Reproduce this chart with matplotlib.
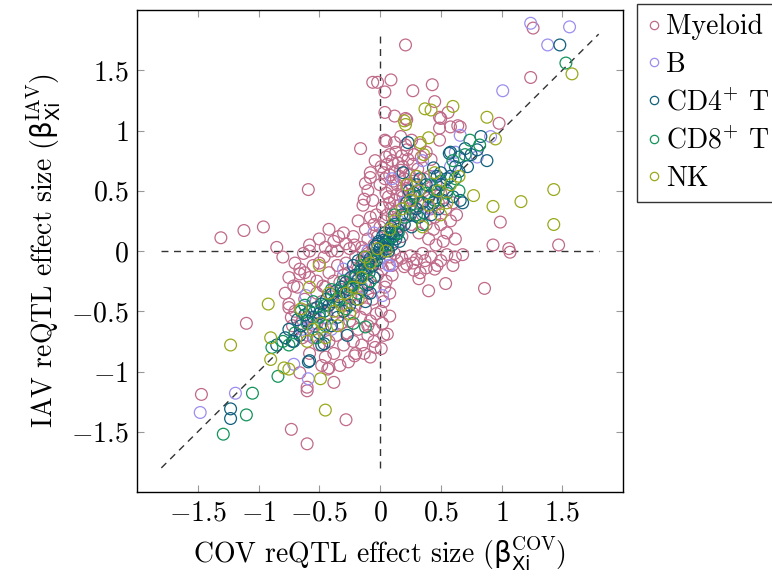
import matplotlib
matplotlib.use("Agg")
import matplotlib.pyplot as plt
from matplotlib.lines import Line2D

plt.rcParams["font.family"] = "cmr10"
plt.rcParams["mathtext.fontset"] = "cm"
plt.rcParams["axes.formatter.use_mathtext"] = True
# custom math fonts, only used by the axis labels (upright sans beta)
plt.rcParams["mathtext.rm"] = "cmr10"
plt.rcParams["mathtext.sf"] = "DejaVu Sans"

# ---- data (beta_COV, beta_IAV) per cell type ----
myeloid = [
    # outliers
    (0.21, 1.71), (1.26, 1.85), (1.24, 1.44), (-0.06, 1.40), (-0.02, 1.40), (0.09, 1.42),
    (0.04, 1.32), (0.27, 1.33), (0.43, 1.38), (0.45, 1.24), (0.04, 1.15), (0.12, 1.12),
    (0.21, 1.10), (0.22, 1.09), (0.49, 1.11), (0.50, 1.10), (0.56, 1.15), (0.64, 1.04),
    (0.49, 1.02), (0.58, 1.03), (0.66, 1.03), (0.98, 1.06), (-0.16, 0.85), (0.05, 0.91),
    (0.04, 0.92), (0.49, 0.92), (-0.59, 0.51), (-0.96, 0.20), (-1.12, 0.17), (-1.31, 0.11),
    (-0.85, 0.03), (-0.08, 0.61), (-0.13, 0.43), (-0.04, 0.75), (-0.34, 0.12), (-0.58, 0.05),
    (-0.45, 0.03), (-0.21, 0.05), (0.99, 0.24), (0.93, 0.05), (1.06, 0.02), (1.47, 0.05),
    (0.68, -0.03), (1.07, -0.01), (0.86, -0.31), (0.54, -0.27), (0.40, -0.33), (0.32, -0.23),
    (0.33, -0.18), (0.47, -0.12), (0.37, -0.08), (0.22, -0.11), (0.14, -0.08), (0.27, -0.10),
    (0.08, -0.54), (0.06, -0.69), (0.01, -0.81), (0.02, -0.60), (0.01, -0.50), (-1.47, -1.19),
    (-1.10, -0.60), (-0.73, -1.48), (-0.60, -1.60), (-0.28, -1.40), (-0.60, -1.16),
    (-0.60, -1.13), (-0.38, -1.09), (-0.42, -0.97), (-0.75, -0.44), (-0.75, -0.47),
    (-0.73, -0.55), (-0.71, -0.29), (-0.66, -0.19), (-0.66, -0.15), (-0.58, 0.00),
    (-0.63, -0.02), (-0.52, -0.25), (-0.47, -0.29), (-0.66, -1.01), (-0.21, -0.87),
    (-0.13, -0.85), (-0.04, -0.80), (-0.05, -0.75), (-0.43, -0.98),
    # upper blob
    (0.00, 0.20), (0.03, 0.25), (0.06, 0.30), (0.10, 0.28), (0.13, 0.33), (0.02, 0.36),
    (0.08, 0.40), (0.12, 0.42), (0.16, 0.38), (0.19, 0.45), (0.05, 0.48), (0.10, 0.52),
    (0.14, 0.55), (0.18, 0.50), (0.22, 0.52), (0.25, 0.47), (0.00, 0.55), (0.04, 0.60),
    (0.08, 0.63), (0.12, 0.66), (0.16, 0.62), (0.20, 0.60), (0.24, 0.64), (0.28, 0.58),
    (0.01, 0.70), (0.06, 0.72), (0.10, 0.75), (0.15, 0.73), (0.19, 0.70), (0.23, 0.76),
    (0.27, 0.72), (0.31, 0.68), (0.08, 0.80), (0.13, 0.82), (0.18, 0.79), (0.22, 0.84),
    (0.28, 0.80), (0.34, 0.78), (0.38, 0.82), (0.42, 0.76), (0.30, 0.45), (0.33, 0.40),
    (0.36, 0.50), (0.40, 0.44), (0.29, 0.35), (0.35, 0.30), (0.42, 0.35), (0.45, 0.28),
    (0.48, 0.40), (0.38, 0.22), (0.44, 0.18), (0.50, 0.22), (0.55, 0.15), (0.58, 0.25),
    (0.62, 0.10), (0.52, 0.08), (0.46, 0.05), (0.40, 0.10), (0.32, 0.15), (0.26, 0.22),
    (-0.03, 0.30), (-0.06, 0.42), (-0.10, 0.50), (-0.12, 0.56), (-0.08, 0.65), (-0.14, 0.38),
    (-0.05, 0.22), (0.20, 0.30), (0.24, 0.35), (0.15, 0.20), (0.09, 0.15), (0.18, 0.12),
    (0.27, 0.42), (0.21, 0.88), (0.26, 0.92), (0.17, 0.95), (0.33, 0.88), (0.12, 0.90),
    (0.36, 0.60), (0.41, 0.62), (0.46, 0.55), (0.50, 0.48), (0.54, 0.35), (0.60, 0.40),
    (0.63, 0.30), (0.07, 0.45), (0.11, 0.58), (0.03, 0.65), (0.17, 0.67), (0.21, 0.40),
    (0.14, 0.47), (0.09, 0.35), (0.25, 0.56), (0.05, 0.78), (0.30, 0.62),
    # right of origin, below zero
    (0.08, -0.05), (0.12, -0.02), (0.18, -0.06), (0.25, -0.04), (0.30, -0.07), (0.35, -0.02),
    (0.42, -0.05), (0.50, -0.08), (0.55, -0.03), (0.60, -0.12), (0.45, -0.15), (0.38, -0.14),
    (0.28, -0.16), (0.20, -0.13), (0.10, -0.12), (0.62, -0.05), (0.05, -0.25), (0.08, -0.35),
    (0.03, -0.42), (0.10, -0.20), (0.04, -0.30),
    # left of origin, above zero
    (-0.05, 0.05), (-0.10, 0.10), (-0.15, 0.03), (-0.22, 0.12), (-0.28, 0.06), (-0.30, 0.15),
    (-0.38, 0.08), (-0.42, 0.18), (-0.50, 0.10), (-0.12, 0.18), (-0.18, 0.25), (-0.25, 0.02),
    (-0.08, 0.28), (-0.35, 0.00), (-0.02, 0.12),
    # lower blob
    (-0.05, -0.05), (-0.10, -0.02), (-0.08, -0.12), (-0.15, -0.08), (-0.12, -0.18),
    (-0.20, -0.05), (-0.18, -0.15), (-0.22, -0.22), (-0.28, -0.10), (-0.25, -0.28),
    (-0.30, -0.20), (-0.32, -0.32), (-0.35, -0.12), (-0.38, -0.25), (-0.40, -0.38),
    (-0.42, -0.18), (-0.45, -0.30), (-0.48, -0.42), (-0.50, -0.10), (-0.52, -0.35),
    (-0.55, -0.48), (-0.58, -0.22), (-0.60, -0.55), (-0.62, -0.40), (-0.65, -0.60),
    (-0.68, -0.30), (-0.70, -0.50), (-0.02, -0.20), (-0.04, -0.30), (-0.06, -0.40),
    (-0.03, -0.52), (-0.08, -0.58), (-0.05, -0.65), (-0.10, -0.70), (-0.12, -0.48),
    (-0.15, -0.38), (-0.16, -0.55), (-0.18, -0.65), (-0.20, -0.45), (-0.22, -0.75),
    (-0.25, -0.58), (-0.27, -0.68), (-0.28, -0.45), (-0.30, -0.78), (-0.32, -0.60),
    (-0.35, -0.50), (-0.36, -0.70), (-0.38, -0.85), (-0.40, -0.62), (-0.42, -0.75),
    (-0.45, -0.88), (-0.47, -0.65), (-0.50, -0.78), (-0.52, -0.60), (-0.55, -0.72),
    (-0.58, -0.85), (-0.60, -0.70), (-0.12, -0.28), (-0.10, -0.35), (0.00, -0.10),
    (0.02, -0.15), (-0.14, 0.00), (-0.24, -0.38), (-0.34, -0.42), (-0.44, -0.52),
    (-0.54, -0.62), (-0.64, -0.72), (-0.20, -0.85), (-0.15, -0.78), (-0.08, -0.88),
    (0.03, -0.70), (-0.26, -0.92), (-0.33, -0.95), (-0.48, -0.95), (-0.40, 0.00),
    (-0.46, -0.05), (-0.55, -0.12), (-0.62, -0.18), (-0.70, -0.10), (-0.75, -0.22),
    (-0.78, -0.35), (-0.80, -0.05), (-0.72, -0.62), (-0.18, -0.30), (-0.26, -0.18),
    (-0.33, -0.26), (-0.22, -0.52), (-0.30, -0.40), (-0.10, -0.62), (-0.14, -0.10),
]

b_cells = [
    (1.24, 1.89), (1.56, 1.86), (1.38, 1.71), (1.01, 1.33), (0.66, 0.96), (0.80, 0.78),
    (0.91, 0.95), (-1.48, -1.34), (-1.19, -1.18), (-0.61, -0.37), (-0.64, -0.65),
    (-0.59, -1.06), (-0.54, -0.72), (-0.71, -0.94), (0.07, -0.12), (0.02, -0.37),
    (0.08, -0.12), (0.30, 0.50), (0.45, 0.62), (0.58, 0.70), (0.15, 0.25), (0.20, 0.40),
    (0.52, 0.55), (0.40, 0.35), (-0.05, 0.15), (-0.10, 0.00), (-0.20, -0.25), (-0.35, -0.40),
    (-0.45, -0.55), (-0.25, -0.45), (-0.55, -0.60), (-0.30, -0.15), (0.10, 0.60),
    (0.35, 0.75), (0.62, 0.82), (-0.40, -0.65), (-0.15, -0.30),
]

cd4_t = [
    (1.48, 1.71), (0.23, 0.90), (0.88, 0.75), (0.83, 0.95), (0.57, 0.81), (0.65, 0.78),
    (0.70, 0.85), (0.68, 0.40), (0.66, 0.42), (0.44, 0.69), (0.19, 0.65), (-1.23, -1.31),
    (-1.23, -1.39), (-0.71, -0.75), (-0.46, -0.77), (-0.58, -0.91), (-0.27, -0.70),
    (-0.59, -0.92), (-0.72, -0.75), (-0.85, -0.78), (-0.48, -0.78),
    (0.75, 0.80), (0.62, 0.70), (0.55, 0.60), (0.50, 0.55), (0.60, 0.45), (0.52, 0.42),
    (0.45, 0.50), (0.40, 0.45), (0.35, 0.40), (0.30, 0.35), (0.25, 0.30), (0.38, 0.55),
    (0.28, 0.48), (0.33, 0.60), (0.22, 0.40), (0.48, 0.35), (0.42, 0.30), (0.55, 0.50),
    (0.18, 0.30), (0.20, 0.22), (0.15, 0.18), (0.12, 0.22), (0.10, 0.15), (0.08, 0.10),
    (0.05, 0.08), (0.03, 0.05), (0.00, 0.02), (0.06, 0.02), (0.10, 0.05), (0.13, 0.10),
    (0.02, 0.12), (-0.02, 0.06), (0.04, 0.15), (0.16, 0.08), (0.09, 0.20), (0.07, 0.00),
    (0.01, -0.02), (0.26, 0.20), (0.32, 0.28), (0.36, 0.32), (0.44, 0.40), (0.58, 0.62),
    (0.47, 0.62), (0.65, 0.66), (0.72, 0.70), (0.80, 0.84), (0.30, 0.55), (0.24, 0.50),
    (0.50, 0.65), (0.58, 0.82), (0.06, 0.05), (0.11, 0.12), (0.03, 0.09), (0.14, 0.14),
    (-0.02, -0.02), (-0.05, -0.04), (-0.03, -0.08), (-0.08, -0.06), (-0.06, -0.12),
    (-0.10, -0.10), (-0.12, -0.14), (-0.09, -0.18), (-0.14, -0.20), (-0.16, -0.16),
    (-0.18, -0.24), (-0.20, -0.20), (-0.22, -0.28), (-0.24, -0.22), (-0.26, -0.32),
    (-0.28, -0.26), (-0.30, -0.34), (-0.32, -0.30), (-0.34, -0.38), (-0.36, -0.33),
    (-0.38, -0.42), (-0.40, -0.36), (-0.42, -0.45), (-0.44, -0.40), (-0.46, -0.50),
    (-0.48, -0.44), (-0.50, -0.52), (-0.52, -0.47), (-0.55, -0.55), (-0.58, -0.50),
    (-0.60, -0.58), (-0.62, -0.53), (-0.65, -0.62), (-0.68, -0.57), (-0.05, -0.22),
    (-0.10, -0.28), (-0.15, -0.32), (-0.20, -0.40), (-0.25, -0.45), (-0.30, -0.50),
    (-0.35, -0.55), (-0.04, 0.04), (-0.01, 0.08), (-0.13, -0.05), (-0.18, -0.08),
    (-0.22, -0.12), (-0.08, -0.35), (-0.12, -0.42), (-0.40, -0.62), (-0.50, -0.68),
    (-0.75, -0.65), (-0.66, -0.70), (-0.78, -0.72),
]

cd8_t = [
    (1.53, 1.56), (0.82, 0.88), (0.74, 0.92), (-1.29, -1.52), (-1.10, -1.36), (-1.05, -1.18),
    (-0.84, -1.04), (-0.89, -0.80), (-0.12, -0.63),
    (0.70, 0.80), (0.62, 0.60), (0.55, 0.48), (0.45, 0.42), (0.38, 0.48), (0.30, 0.30),
    (0.25, 0.38), (0.20, 0.28), (0.50, 0.58), (0.35, 0.22), (0.15, 0.15), (0.10, 0.12),
    (0.05, 0.05), (0.12, 0.30), (0.42, 0.55), (0.60, 0.75), (0.28, 0.45), (0.65, 0.50),
    (-0.05, -0.08), (-0.10, -0.15), (-0.15, -0.12), (-0.20, -0.22), (-0.25, -0.30),
    (-0.30, -0.25), (-0.35, -0.40), (-0.40, -0.32), (-0.45, -0.45), (-0.50, -0.55),
    (-0.55, -0.42), (-0.60, -0.60), (-0.65, -0.50), (-0.70, -0.68), (-0.52, -0.72),
    (-0.45, -0.62), (-0.28, -0.48), (-0.18, -0.35), (-0.08, -0.25), (-0.62, -0.45),
    (-0.75, -0.78), (-0.80, -0.75), (-0.22, -0.60),
]

nk = [
    (1.58, 1.47), (1.43, 0.51), (1.43, 0.22), (1.16, 0.41), (0.93, 0.37), (0.77, 0.46),
    (0.88, 1.11), (0.37, 1.18), (0.60, 1.20), (0.20, 1.08), (0.21, 1.05), (0.33, 0.90),
    (0.40, 0.94), (0.36, 0.80), (0.95, 0.93), (0.42, 1.17), (-0.92, -0.44), (-1.23, -0.78),
    (-0.90, -0.72), (-0.90, -0.90), (-0.79, -0.97), (-0.75, -0.98), (-0.45, -1.32),
    (-0.49, -1.06), (-0.50, -0.12),
    (0.25, 0.42), (0.32, 0.50), (0.40, 0.38), (0.48, 0.50), (0.55, 0.40), (0.18, 0.35),
    (0.12, 0.25), (0.08, 0.18), (0.22, 0.55), (0.45, 0.65), (0.30, 0.62), (0.58, 0.55),
    (0.05, 0.00), (-0.02, 0.02), (-0.08, -0.10), (-0.15, -0.22), (-0.12, -0.05),
    (-0.22, -0.30), (-0.28, -0.35), (-0.32, -0.45), (-0.38, -0.50), (-0.42, -0.35),
    (-0.48, -0.60), (-0.55, -0.65), (-0.60, -0.75), (-0.35, -0.62), (-0.25, -0.52),
    (-0.65, -0.48), (-0.18, -0.40), (-0.45, -0.72), (-0.58, -0.30), (0.35, 0.20),
    (0.50, 0.30), (0.65, 0.62),
]

labels = ["Myeloid", "B", "CD4$^{+}$ T", "CD8$^{+}$ T", "NK"]
colors = ["#c06a8a", "#9b8eef", "#11607c", "#13935a", "#9aa81c"]
series = [myeloid, b_cells, cd4_t, cd8_t, nk]

fig = plt.figure(figsize=(7.72, 5.82), dpi=100)
ax = fig.add_axes([0.1775, 0.1546, 0.6295, 0.8282])

# reference lines
dash = dict(color="#333333", lw=1.0, dashes=(5, 4), zorder=1)
ax.plot([-1.8, 1.8], [0, 0], **dash)
ax.plot([0, 0], [-1.8, 1.8], **dash)
ax.plot([-1.8, 1.8], [-1.8, 1.8], **dash)

for pts, col in zip(series, colors):
    xs = [p[0] for p in pts]
    ys = [p[1] for p in pts]
    ax.scatter(xs, ys, s=72, facecolors="none", edgecolors=col, linewidths=0.9, zorder=2)

ax.set_xlim(-2, 2)
ax.set_ylim(-2, 2)
ticks = [-1.5, -1, -0.5, 0, 0.5, 1, 1.5]
ticklabels = ["$-1.5$", "$-1$", "$-0.5$", "$0$", "$0.5$", "$1$", "$1.5$"]
ax.set_xticks(ticks)
ax.set_xticklabels(ticklabels)
ax.set_yticks(ticks)
ax.set_yticklabels(ticklabels)
ax.tick_params(direction="in", length=5, width=0.8, color="0.6", labelsize=20,
               top=True, right=True, pad=6)
for s in ax.spines.values():
    s.set_linewidth(1.0)

xl = ax.set_xlabel(r"COV reQTL effect size ($\mathsf{\beta}^{\mathrm{COV}}_{\mathsf{Xi}}$)",
                   fontsize=20, labelpad=6)
yl = ax.set_ylabel(r"IAV reQTL effect size ($\mathsf{\beta}^{\mathrm{IAV}}_{\mathsf{Xi}}$)",
                   fontsize=20, labelpad=6)
xl.set_math_fontfamily("custom")
yl.set_math_fontfamily("custom")

handles = [Line2D([], [], ls="none", marker="o", markersize=6, markerfacecolor="none",
                  markeredgecolor=c, markeredgewidth=0.9) for c in colors]
leg = ax.legend(handles, labels, loc="upper left", bbox_to_anchor=(1.029, 1.012),
                fontsize=20, frameon=True, fancybox=False, edgecolor="black",
                borderaxespad=0, handlelength=0.5, handletextpad=0.2,
                labelspacing=0.4, borderpad=0.35)
leg.get_frame().set_linewidth(1.0)

fig.savefig("out.png", dpi=100)
